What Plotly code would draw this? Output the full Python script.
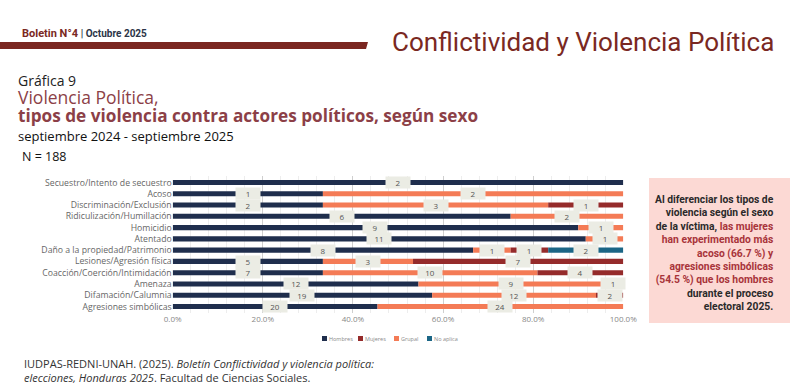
import plotly.graph_objects as go

categories = [
    "Secuestro/Intento de secuestro", "Acoso", "Discriminación/Exclusión",
    "Ridiculización/Humillación", "Homicidio", "Atentado",
    "Daño a la propiedad/Patrimonio", "Lesiones/Agresión física",
    "Coacción/Coerción/Intimidación", "Amenaza", "Difamación/Calumnia",
    "Agresiones simbólicas",
]
hombres = [2, 1, 2, 6, 9, 11, 8, 5, 7, 12, 19, 20]
grupal = [0, 2, 3, 2, 1, 1, 1, 3, 10, 9, 12, 24]
mujeres = [0, 0, 1, 0, 0, 0, 1, 7, 4, 1, 2, 0]
no_aplica = [0, 0, 0, 0, 0, 0, 2, 0, 0, 0, 0, 0]
x_ticks = [0, 20, 40, 60, 80, 100]
x_tick_labels = ["0.0%", "20.0%", "40.0%", "60.0%", "80.0%", "100.0%"]
legend_order = ["Hombres", "Mujeres", "Grupal", "No aplica"]

W, H = 794, 391
PX0, PX1, PY0, PY1 = 172.7, 623.3, 176, 313


def px(x):
    return x / W


def py(y):
    return 1 - y / H


# stack order as drawn: Hombres, Grupal, Mujeres, No aplica
series = [
    ("Hombres", hombres, "#1f2e4d"),
    ("Grupal", grupal, "#f47b56"),
    ("Mujeres", mujeres, "#952b2b"),
    ("No aplica", no_aplica, "#1b6686"),
]
colors = {name: color for name, _, color in series}
totals = [sum(v) for v in zip(hombres, grupal, mujeres, no_aplica)]

fig = go.Figure()
annotations = []
shapes = []
base = [0.0] * len(categories)
for name, vals, color in series:
    pct = [v / t * 100 for v, t in zip(vals, totals)]
    fig.add_trace(go.Bar(
        y=categories, x=pct, base=base, orientation="h", name=name,
        marker=dict(color=color, line=dict(width=0)),
        showlegend=False, hoverinfo="skip",
    ))
    for cat, b, p, v in zip(categories, base, pct, vals):
        if v > 0:
            annotations.append(dict(
                x=b + p / 2, y=cat, xref="x", yref="y", text=str(v),
                showarrow=False, bgcolor="#ebece4", width=22, height=9,
                font=dict(family="Open Sans", size=8, color="#555555"),
            ))
    base = [b + p for b, p in zip(base, pct)]

# compact legend (square + label) below the axis
lx = 322
for name in legend_order:
    shapes.append(dict(type="rect", xref="paper", yref="paper",
                       x0=px(lx), x1=px(lx + 5), y0=py(341), y1=py(336),
                       fillcolor=colors[name], line=dict(width=0)))
    annotations.append(dict(x=px(lx + 6), y=py(338.5), xref="paper", yref="paper",
                            xanchor="left", yanchor="middle", showarrow=False,
                            text=name, borderpad=0,
                            font=dict(family="Open Sans", size=5.5, color="#8a8a8a")))
    lx += 6 + len(name) * 3.0 + 9

red = "#7a2822"
title_block = (
    "<span style='font-size:14px;color:#222222'>Gráfica 9</span><br>"
    "<span style='font-size:17.5px;color:#8c3f47'>Violencia Política,</span><br>"
    "<span style='font-size:17.2px;color:#8c3f47'><b>tipos de violencia contra actores políticos, según sexo</b></span><br>"
    "<span style='font-size:13px;color:#111111'>septiembre 2024 - septiembre 2025</span>"
)
annotations += [
    dict(x=px(20), y=py(34), xref="paper", yref="paper", xanchor="left", yanchor="middle",
         showarrow=False,
         text="<b><span style='color:#7a2822'>Boletin N°4</span> <span style='color:#2b3447;font-size:10px'>| Octubre 2025</span></b>",
         font=dict(family="Roboto", size=11)),
    dict(x=px(776), y=py(42), xref="paper", yref="paper", xanchor="right", yanchor="middle",
         showarrow=False, text="Conflictividad y Violencia Política",
         font=dict(family="Roboto", size=26, color=red)),
    dict(x=px(17), y=py(107.5), xref="paper", yref="paper", xanchor="left", yanchor="middle",
         showarrow=False, align="left", text=title_block, borderpad=0,
         font=dict(family="Open Sans", size=14, color="#222222")),
    dict(x=px(20), y=py(156), xref="paper", yref="paper", xanchor="left", yanchor="middle",
         showarrow=False, text="N = 188",
         font=dict(family="Open Sans", size=12.5, color="#111111")),
    dict(x=px(776), y=py(253), xref="paper", yref="paper", xanchor="right", yanchor="middle",
         showarrow=False, align="right",
         text=("<b>Al diferenciar los tipos de<br>violencia según el sexo<br>de la víctima, "
               "<span style='color:#a8343a'>las mujeres<br>han experimentado más<br>acoso (66.7 %) y<br>"
               "agresiones simbólicas<br>(54.5 %) que los hombres</span><br>durante el proceso<br>electoral 2025.</b>"),
         font=dict(family="Liberation Sans Narrow, Roboto", size=10.3, color="#2a2a2a")),
    dict(x=px(22), y=py(363), xref="paper", yref="paper", xanchor="left", yanchor="middle",
         showarrow=False,
         text="IUDPAS-REDNI-UNAH. (2025). <i>Boletín Conflictividad y violencia política:</i>",
         font=dict(family="Open Sans", size=11, color="#333333")),
    dict(x=px(22), y=py(377), xref="paper", yref="paper", xanchor="left", yanchor="middle",
         showarrow=False,
         text="<i>elecciones, Honduras 2025</i>. Facultad de Ciencias Sociales.",
         font=dict(family="Open Sans", size=11, color="#333333")),
]

shapes += [
    dict(type="path", xref="paper", yref="paper",
         path=f"M 0 {py(42)} L {px(368)} {py(42)} L {px(366)} {py(49)} L 0 {py(49)} Z",
         fillcolor="#7a2620", line=dict(width=0)),
    dict(type="rect", xref="paper", yref="paper", x0=px(649), x1=px(790), y0=py(178), y1=py(323),
         fillcolor="#fcd9d4", line=dict(width=0), layer="below"),
]

fig.update_layout(
    width=W, height=H, barmode="overlay", bargap=0.55, showlegend=False,
    margin=dict(l=0, r=0, t=0, b=0, autoexpand=False),
    paper_bgcolor="white", plot_bgcolor="white",
    annotations=annotations, shapes=shapes,
    xaxis=dict(domain=[px(PX0), px(PX1)], range=[0, 100], tickvals=x_ticks,
               ticktext=x_tick_labels, showgrid=True, gridcolor="#cfcfcf", gridwidth=1,
               minor=dict(dtick=4, showgrid=True, gridcolor="#ededed", gridwidth=1),
               zeroline=False, showline=False, automargin=False,
               tickfont=dict(family="Open Sans", size=8, color="#888888"), ticklen=0),
    yaxis=dict(domain=[py(PY1), py(PY0)], categoryorder="array", categoryarray=categories,
               autorange="reversed", showgrid=False, zeroline=False, ticks="", ticklen=0,
               automargin=False,
               tickfont=dict(family="Open Sans", size=8.7, color="#666666")),
)

fig.write_html("out.html", config={"displayModeBar": False},
               post_script="document.body.style.margin='0';")
